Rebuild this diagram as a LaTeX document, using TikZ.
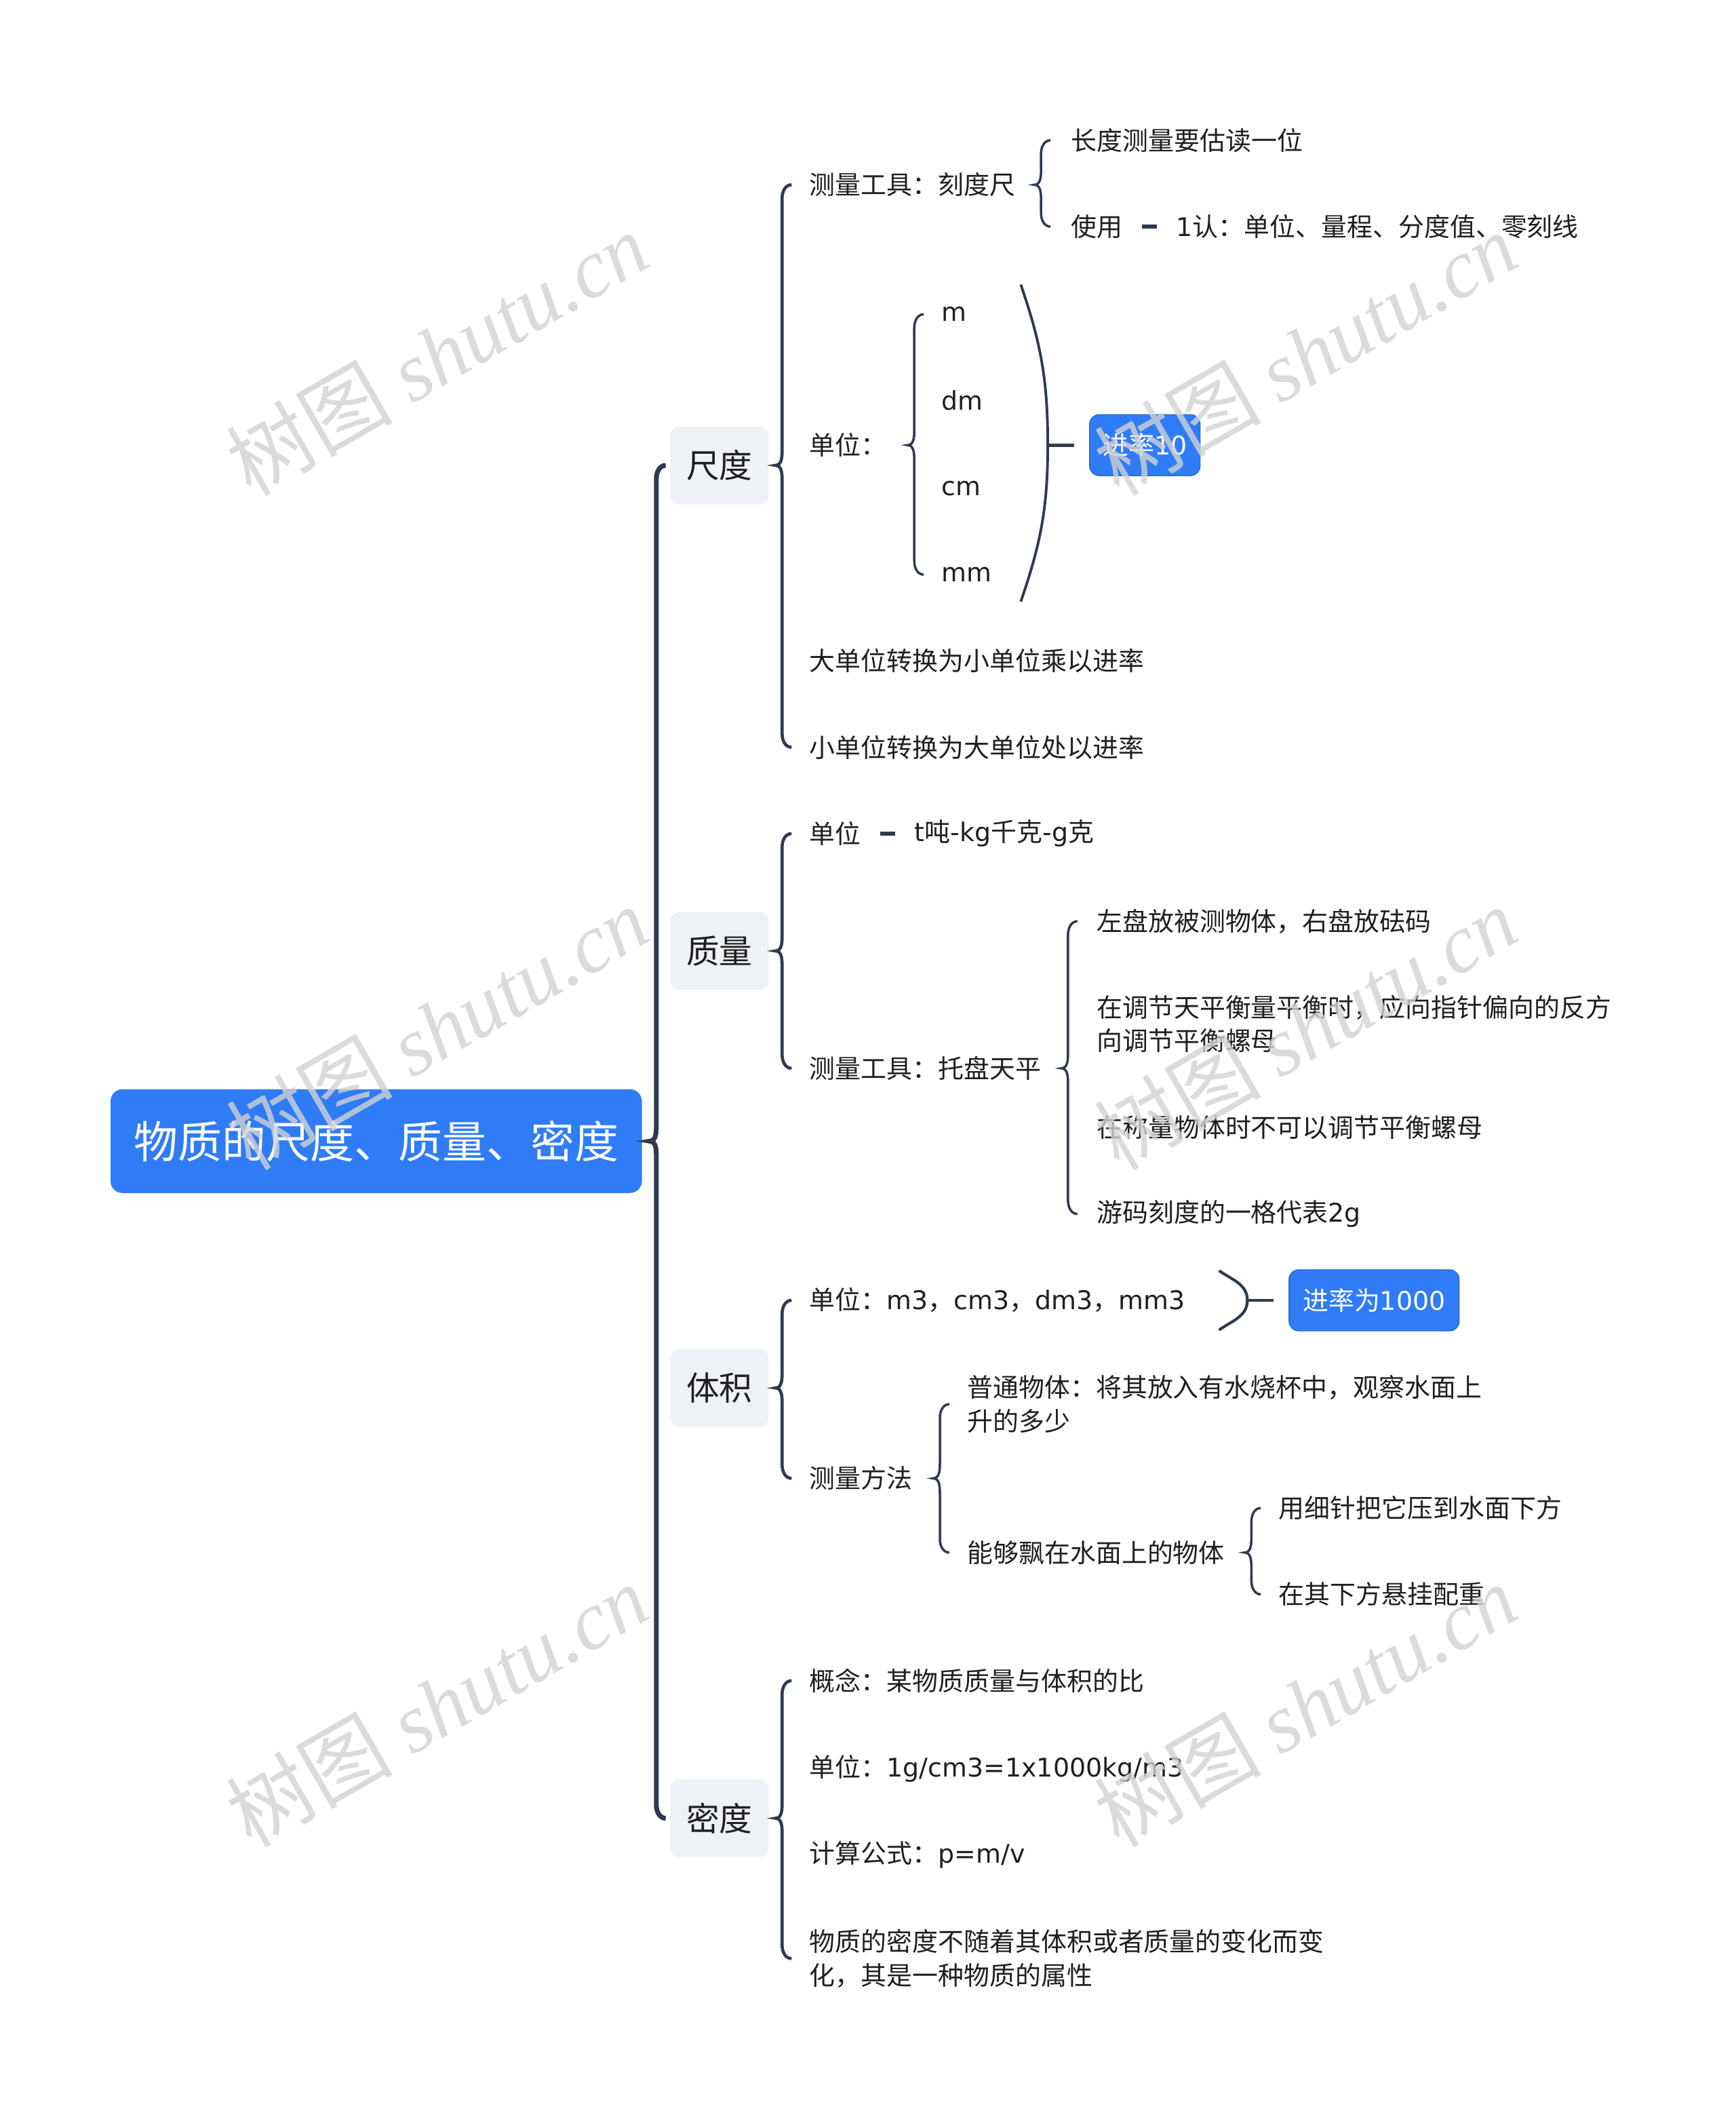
\documentclass[tikz,border=0pt]{standalone}
\usepackage{fontspec}
\setmainfont{Noto Sans CJK SC}
\newfontfamily\latfont{DejaVu Sans}
\newfontfamily\wmfont{Liberation Serif}
\usetikzlibrary{calc}

\definecolor{topicblue}{HTML}{2F7CF6}
\definecolor{linkgray}{HTML}{2E3B4E}
\definecolor{boxgray}{HTML}{EEF1F5}
\definecolor{inkgray}{HTML}{1F1F1F}
\definecolor{markgray}{HTML}{D2D2D2}

\tikzset{
  link/.style={draw=linkgray,line width=1.3pt},
  trunk/.style={line width=2pt},
  stub/.style={draw=linkgray,line width=1.5pt},
  txt/.style={anchor=west,inner sep=0pt,text=inkgray,font=\fontsize{10.8}{14.1}\selectfont},
  ml/.style={txt,align=left},
  root/.style={fill=topicblue,text=white,rounded corners=5pt,minimum width=7.84cm,
    minimum height=1.53cm,inner sep=0pt,font=\fontsize{18.5}{22}\selectfont},
  topic/.style={fill=boxgray,text=inkgray,rounded corners=4pt,minimum width=1.45cm,
    minimum height=1.15cm,inner sep=0pt,font=\fontsize{13.9}{16}\selectfont},
  sumbox/.style={fill=topicblue,draw=topicblue!85!black,line width=0.4pt,text=white,
    rounded corners=4pt,minimum height=0.9cm,inner sep=0pt,font=\fontsize{10.8}{13}\selectfont},
  wmark/.style={rotate=30,text=markgray,text opacity=0.8,inner sep=0pt,
    font=\fontsize{35}{40}\selectfont}
}

\newcommand{\lt}[1]{{\latfont #1}}
\newcommand{\brk}[5][]{%
  \coordinate (t) at ($(#3.west)+(-#5,0)$);
  \coordinate (b) at (t |- #4.west);
  \coordinate (m) at (t |- #2.east);
  \draw[link,#1] ($(t)+(7,0)$) to[out=180,in=90] ($(t)+(0,10)$) -- ($(m)+(0,-12)$)
    to[out=-90,in=0] ($(m)+(-5,0)$) to[out=0,in=90] ($(m)+(0,12)$)
    -- ($(b)+(0,-10)$) to[out=-90,in=180] ($(b)+(7,0)$);}

\begin{document}
\begin{tikzpicture}[x=0.0199cm,y=-0.0199cm]
\useasboundingbox (0,0) rectangle (1287,1568);

\node[root] (R) at (279,846) {物质的尺度、质量、密度};
\node[topic] (A) at (533.5,345) {尺度};
\node[topic] (B) at (533.5,705) {质量};
\node[topic] (C) at (533.5,1029) {体积};
\node[topic] (D) at (533.5,1348) {密度};

\node[txt] (A1) at (600,137) {测量工具：刻度尺};
\node[txt] (A11) at (794,104) {长度测量要估读一位};
\node[txt] (A12) at (794,168) {使用};
\node[txt] (A121) at (872,168) {\lt{1}认：单位、量程、分度值、零刻线};
\node[txt] (A2) at (600,330) {单位：};
\node[txt] (A21) at (698,233) {\lt{m}};
\node[txt] (A22) at (698,297) {\lt{dm}};
\node[txt] (A23) at (698,362) {\lt{cm}};
\node[txt] (A24) at (698,426) {\lt{mm}};
\node[sumbox,minimum width=1.63cm] (A2S) at (849,330) {进率\lt{10}};
\node[txt] (A3) at (600,490) {大单位转换为小单位乘以进率};
\node[txt] (A4) at (600,554) {小单位转换为大单位处以进率};

\node[txt] (B1) at (600,618) {单位};
\node[txt] (B11) at (678,618) {\lt{t}吨\lt{-kg}千克\lt{-g}克};
\node[txt] (B2) at (600,792) {测量工具：托盘天平};
\node[txt] (B21) at (813,683) {左盘放被测物体，右盘放砝码};
\node[ml] (B22) at (813,759) {在调节天平衡量平衡时，应向指针偏向的反方\\向调节平衡螺母};
\node[txt] (B23) at (813,836) {在称量物体时不可以调节平衡螺母};
\node[txt] (B24) at (813,900) {游码刻度的一格代表\lt{2g}};

\node[txt] (C1) at (600,964) {单位：\lt{m3}，\lt{cm3}，\lt{dm3}，\lt{mm3}};
\node[sumbox,minimum width=2.51cm] (C1S) at (1019,964) {进率为\lt{1000}};
\node[txt] (C2) at (600,1096) {测量方法};
\node[ml] (C21) at (717,1041) {普通物体：将其放入有水烧杯中，观察水面上\\升的多少};
\node[txt] (C22) at (717,1151) {能够飘在水面上的物体};
\node[txt] (C221) at (948,1118) {用细针把它压到水面下方};
\node[txt] (C222) at (948,1182) {在其下方悬挂配重};

\node[txt] (D1) at (600,1246) {概念：某物质质量与体积的比};
\node[txt] (D2) at (600,1311) {单位：\lt{1g/cm3=1x1000kg/m3}};
\node[txt] (D3) at (600,1375) {计算公式：\lt{p=m/v}};
\node[ml] (D4) at (600,1452) {物质的密度不随着其体积或者质量的变化而变\\化，其是一种物质的属性};

\brk[trunk]{R}{A}{D}{10}
\brk{A}{A1}{A4}{20}
\brk[line width=1pt]{A1}{A11}{A12}{22}
\brk[line width=1pt]{A2}{A21}{A24}{20}
\brk{B}{B1}{B2}{20}
\brk[line width=1pt]{B2}{B21}{B24}{21}
\brk{C}{C1}{C2}{20}
\brk[line width=1pt]{C2}{C21}{C22}{20}
\brk[line width=1pt]{C22}{C221}{C222}{20}
\brk{D}{D1}{D4}{20}

\draw[stub] ($(A12.east)+(14,0)$) -- ($(A121.west)+(-14,0)$);
\draw[stub] ($(B1.east)+(14,0)$) -- ($(B11.west)+(-14,0)$);

\coordinate (A2p) at (777,330);
\draw[link,line width=1.1pt] (757,211) to[out=-71,in=90] (A2p) to[out=-90,in=71] (757,446);
\draw[link] (A2p) -- ($(A2S.west)+(-11,0)$);
\coordinate (C1p) at (925,964);
\draw[link,line width=1.2pt] (904,942) to[out=-35,in=90] (C1p) to[out=-90,in=35] (904,986);
\draw[link] (C1p) -- ($(C1S.west)+(-11,0)$);

\foreach \wx in {324,968}{
  \foreach \wy in {262,762,1264}{
    \node[wmark] (W\wx-\wy) at (\wx,\wy) {树图 {\wmfont\itshape shutu.cn}};
  }
}
\end{tikzpicture}
\end{document}
